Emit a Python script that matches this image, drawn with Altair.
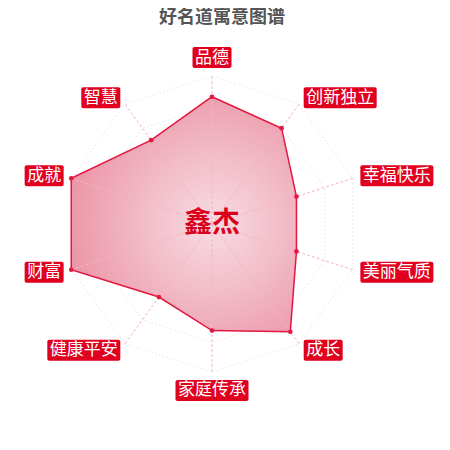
import altair as alt
import pandas as pd
import numpy as np

categories = ["品德", "创新独立", "幸福快乐", "美丽气质", "成长", "家庭传承", "健康平安", "财富", "成就", "智慧"]
values = [86, 80, 60, 60, 90, 72, 61, 100, 100, 70]
ring_levels = [20, 40, 60, 80, 100]
title_text = "好名道寓意图谱"
name_text = "鑫杰"

FONT = "Noto Sans CJK SC"
RED = "#e2001f"
PX = 1.48           # pixels per value unit
TOP = 22
W, H = 434, 412
CX, CY = 204, 216 - TOP   # center of radar inside plot area (px)
xdom = [-CX / PX, (W - CX) / PX]
ydom = [-(H - CY) / PX, CY / PX]
n = len(categories)
ang = np.deg2rad(90 - 360.0 / n * np.arange(n))
cs, sn = np.cos(ang), np.sin(ang)

xs = alt.Scale(domain=xdom, nice=False, zero=False)
ys = alt.Scale(domain=ydom, nice=False, zero=False)
X = lambda f: alt.X(f, type="quantitative", scale=xs, axis=None)
Y = lambda f: alt.Y(f, type="quantitative", scale=ys, axis=None)

# grid rings
rows = []
for lv in ring_levels:
    for k in range(n + 1):
        rows.append({"ring": lv, "o": k, "x": lv * cs[k % n], "y": lv * sn[k % n]})
rings_df = pd.DataFrame(rows)
rings = alt.Chart(rings_df).mark_line(stroke="#dadada", strokeWidth=1, strokeDash=[1, 3]).encode(
    x=X("x"), y=Y("y"), detail="ring:N", order="o:Q")

# spokes
spk_df = pd.DataFrame({"x": 0.0, "y": 0.0, "x2": 100 * cs, "y2": 100 * sn, "c": categories})
spokes = alt.Chart(spk_df).mark_rule(stroke="#f3b6c3", strokeWidth=1, strokeDash=[3, 2]).encode(
    x=X("x"), y=Y("y"), x2="x2", y2="y2")

# data polygon
v = np.array(values, dtype=float)
px, py = v * cs, v * sn
poly_df = pd.DataFrame({"x": list(px) + [px[0]], "y": list(py) + [py[0]], "o": list(range(n + 1))})
fx = (0 - px.min()) / (px.max() - px.min())
fy = (py.max() - 0) / (py.max() - py.min())
grad = alt.Gradient(
    gradient="radial", x1=fx, y1=fy, r1=0, x2=fx, y2=fy, r2=0.66,
    stops=[alt.GradientStop(color="#f7dce2", offset=0),
           alt.GradientStop(color="#f2bcc8", offset=0.45),
           alt.GradientStop(color="#eb91a4", offset=1)])
area = alt.Chart(poly_df).mark_line(fill=grad, stroke="#e3173f", strokeWidth=1.5).encode(
    x=X("x"), y=Y("y"), order="o:Q")
pts_df = pd.DataFrame({"x": px, "y": py, "c": categories})
pts = alt.Chart(pts_df).mark_point(filled=True, size=22, color="#e3173f", opacity=1).encode(
    x=X("x"), y=Y("y"))

# labels with red boxes
LR = 105.4
FS = 17
lab = []
for i, c in enumerate(categories):
    ax, ay = LR * cs[i], LR * sn[i]
    w = (len(c) * FS + 5) / PX
    h = 21 / PX
    if abs(cs[i]) < 0.01:
        x1, x2 = ax - w / 2, ax + w / 2
        if sn[i] > 0:
            y1, y2 = ay, ay + h
        else:
            y1, y2 = ay - h, ay
    else:
        if cs[i] > 0:
            x1, x2 = ax, ax + w
        else:
            x1, x2 = ax - w, ax
        y1, y2 = ay - h / 2, ay + h / 2
    lab.append({"c": c, "x1": x1, "x2": x2, "y1": y1, "y2": y2,
                "xm": (x1 + x2) / 2, "ym": (y1 + y2) / 2})
lab_df = pd.DataFrame(lab)
boxes = alt.Chart(lab_df).mark_rect(color=RED, cornerRadius=2).encode(
    x=X("x1"), x2="x2", y=Y("y1"), y2="y2")
labels = alt.Chart(lab_df).mark_text(font=FONT, fontSize=FS, color="white", align="center",
                                     baseline="middle").encode(
    x=X("xm"), y=Y("ym"), text="c:N")

# center name
name_df = pd.DataFrame({"x": [0.0], "y": [0.0], "t": [name_text]})
name = alt.Chart(name_df).mark_text(font=FONT, fontSize=28, fontWeight="bold", color="#d9001b",
                                    align="center", baseline="middle").encode(
    x=X("x"), y=Y("y"), text="t:N")

chart = alt.layer(rings, area, spokes, pts, boxes, labels, name).properties(
    width=W, height=H, autosize=alt.AutoSizeParams(type="none"),
    padding={"left": 0, "right": 0, "top": TOP, "bottom": 0},
    title=alt.TitleParams(title_text, font=FONT, fontSize=18, fontWeight="bold",
                          color="#555555", anchor="middle", offset=3, dx=-3)
).configure_view(stroke=None)

chart.save("out.html", embed_options={"renderer": "svg", "actions": False})
